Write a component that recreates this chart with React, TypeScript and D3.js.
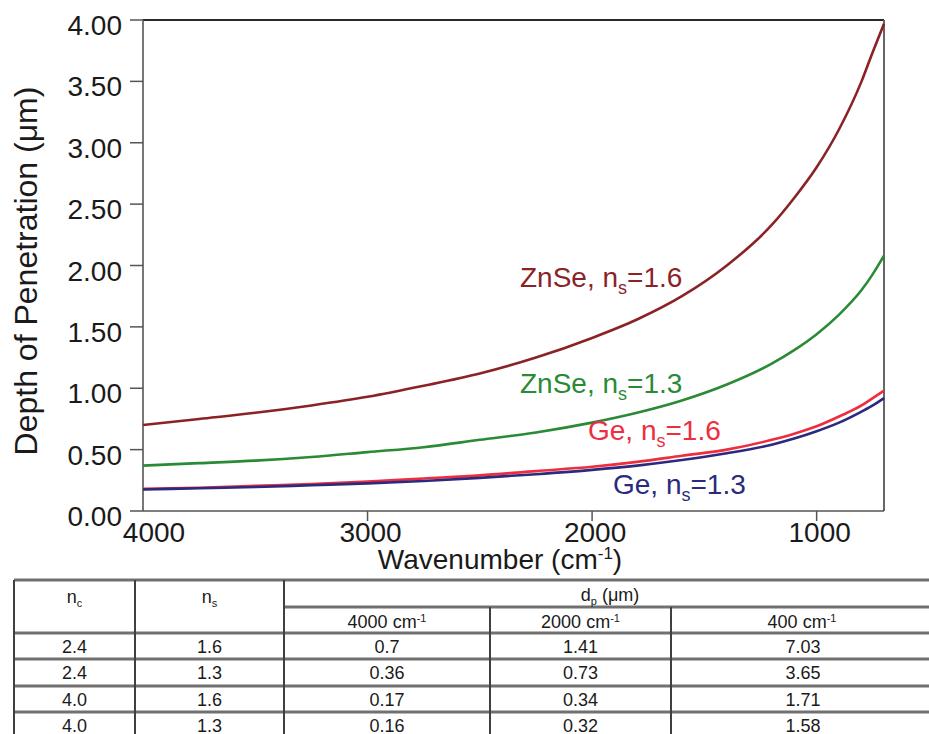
import React from 'react';
import * as d3 from 'd3';

// ---- data ----
const wavenumbers = [4000, 3750, 3500, 3250, 3000, 2750, 2500, 2250, 2000, 1800, 1600, 1400, 1200, 1100, 1000, 900, 800, 750, 700];
const znse16 = [0.70, 0.75, 0.80, 0.86, 0.93, 1.02, 1.12, 1.25, 1.41, 1.56, 1.75, 2.00, 2.33, 2.55, 2.80, 3.11, 3.50, 3.74, 3.97];
const znse13 = [0.37, 0.39, 0.41, 0.44, 0.48, 0.52, 0.58, 0.64, 0.72, 0.80, 0.90, 1.03, 1.20, 1.31, 1.44, 1.60, 1.80, 1.93, 2.08];
const ge16 = [0.18, 0.19, 0.205, 0.22, 0.24, 0.265, 0.29, 0.325, 0.36, 0.40, 0.45, 0.50, 0.58, 0.63, 0.69, 0.77, 0.86, 0.92, 0.98];
const ge13 = [0.175, 0.185, 0.195, 0.21, 0.225, 0.245, 0.27, 0.30, 0.335, 0.37, 0.415, 0.47, 0.54, 0.59, 0.65, 0.72, 0.81, 0.86, 0.92];

const seriesCrystal = ['ZnSe', 'ZnSe', 'Ge', 'Ge'];
const seriesNs = ['1.6', '1.3', '1.6', '1.3'];
const seriesColors = ['#8b2326', '#2a8a35', '#ee2d3f', '#2b2a7e'];
const seriesValues = [znse16, znse13, ge16, ge13];

const yTicks = [0, 0.5, 1, 1.5, 2, 2.5, 3, 3.5, 4];
const xTicks = [4000, 3000, 2000, 1000];

// table
const tableNc = ['2.4', '2.4', '4.0', '4.0'];
const tableNs = ['1.6', '1.3', '1.6', '1.3'];
const tableDp4000 = ['0.7', '0.36', '0.17', '0.16'];
const tableDp2000 = ['1.41', '0.73', '0.34', '0.32'];
const tableDp400 = ['7.03', '3.65', '1.71', '1.58'];
const tableWaves = ['4000', '2000', '400'];

const FONT = "'Liberation Sans', Arial, sans-serif";

export default function App() {
  const left = 143, right = 884, top = 20, bottom = 511;
  const x = d3.scaleLinear().domain([4000, 700]).range([left, right]);
  const y = d3.scaleLinear().domain([0, 4]).range([bottom, top]);
  const line = d3
    .line<number>()
    .x((_, i) => x(wavenumbers[i]))
    .y((d) => y(d))
    .curve(d3.curveMonotoneX);

  const labelPos = [
    { x: 520, y: 287 },
    { x: 520, y: 393 },
    { x: 588, y: 440 },
    { x: 613, y: 494 },
  ];

  // table geometry
  const colX = [14, 135, 284, 490, 671, 935];
  const rowY = [580, 607, 633, 659, 686, 712, 739];
  const hLine = '#707070';
  const vLine = '#404040';
  const rowsData = tableNc.map((nc, i) => [nc, tableNs[i], tableDp4000[i], tableDp2000[i], tableDp400[i]]);

  return (
    <svg width={929} height={734} style={{ position: 'absolute', left: 0, top: 0, background: '#fff' }} fontFamily={FONT}>
      <rect x={0} y={0} width={929} height={734} fill="#fff" />
      {/* frame */}
      <line x1={left} y1={top} x2={right} y2={top} stroke="#2a2a2a" strokeWidth={2.2} />
      <line x1={right} y1={top} x2={right} y2={bottom} stroke="#555" strokeWidth={1.8} />
      <line x1={left} y1={bottom} x2={right} y2={bottom} stroke="#555" strokeWidth={1.6} />
      <line x1={left} y1={top} x2={left} y2={bottom} stroke="#555" strokeWidth={1.6} />

      {/* y ticks */}
      {yTicks.map((t) => (
        <g key={'y' + t}>
          <line x1={left - 13} x2={left} y1={y(t)} y2={y(t)} stroke="#555" strokeWidth={1.5} />
          <text x={122} y={y(t) + 15} textAnchor="end" fontSize={28} fill="#1a1a1a">
            {t.toFixed(2)}
          </text>
        </g>
      ))}
      {/* x ticks */}
      {xTicks.map((t) => (
        <g key={'x' + t}>
          {t !== 4000 && <line x1={x(t)} x2={x(t)} y1={bottom} y2={bottom + 10} stroke="#555" strokeWidth={1.5} />}
          <text x={x(t) + (t === 4000 ? 11 : 3)} y={542} textAnchor="middle" fontSize={28} fill="#1a1a1a">
            {t}
          </text>
        </g>
      ))}

      {/* axis titles */}
      <text x={500} y={569} textAnchor="middle" fontSize={28} fill="#1a1a1a">
        Wavenumber (cm<tspan dy={-10} fontSize={17}>-1</tspan>
        <tspan dy={10}>)</tspan>
      </text>
      <text transform={`translate(37,271) rotate(-90)`} textAnchor="middle" fontSize={32} fill="#1a1a1a">
        Depth of Penetration (μm)
      </text>

      {/* curves */}
      {seriesValues.map((vals, i) => (
        <path key={'s' + i} d={line(vals) || ''} fill="none" stroke={seriesColors[i]} strokeWidth={2.6} strokeLinejoin="round" />
      ))}

      {/* curve labels */}
      {seriesValues.map((_, i) => (
        <text key={'l' + i} x={labelPos[i].x} y={labelPos[i].y} fontSize={28} fill={seriesColors[i]}>
          {seriesCrystal[i]}, n<tspan dy={7} fontSize={18}>s</tspan>
          <tspan dy={-7}>={seriesNs[i]}</tspan>
        </text>
      ))}

      {/* table */}
      <g>
        {/* horizontal lines */}
        <line x1={colX[0]} x2={colX[5]} y1={rowY[0]} y2={rowY[0]} stroke={hLine} strokeWidth={3} />
        <line x1={colX[2]} x2={colX[5]} y1={rowY[1]} y2={rowY[1]} stroke={hLine} strokeWidth={3} />
        {rowY.slice(2, 6).map((ry) => (
          <line key={'h' + ry} x1={colX[0]} x2={colX[5]} y1={ry} y2={ry} stroke={hLine} strokeWidth={3} />
        ))}
        {/* vertical lines */}
        {colX.slice(0, 3).map((cx) => (
          <line key={'v' + cx} x1={cx} x2={cx} y1={rowY[0]} y2={734} stroke={vLine} strokeWidth={2} />
        ))}
        {colX.slice(3, 5).map((cx) => (
          <line key={'v' + cx} x1={cx} x2={cx} y1={rowY[1]} y2={734} stroke={vLine} strokeWidth={2} />
        ))}
        {/* headers */}
        <text x={(colX[0] + colX[1]) / 2} y={603} textAnchor="middle" fontSize={18} fill="#1a1a1a">
          n<tspan dy={4} fontSize={11}>c</tspan>
        </text>
        <text x={(colX[1] + colX[2]) / 2} y={603} textAnchor="middle" fontSize={18} fill="#1a1a1a">
          n<tspan dy={4} fontSize={11}>s</tspan>
        </text>
        <text x={610} y={601} textAnchor="middle" fontSize={18} fill="#1a1a1a">
          d<tspan dy={4} fontSize={11}>p</tspan>
          <tspan dy={-4}> (μm)</tspan>
        </text>
        {tableWaves.map((w, i) => (
          <text key={'w' + w} x={(colX[2 + i] + colX[3 + i]) / 2 + (i === 2 ? -1 : 0)} y={628} textAnchor="middle" fontSize={18} fill="#1a1a1a">
            {w} cm<tspan dy={-6} fontSize={11}>-1</tspan>
          </text>
        ))}
        {rowsData.map((row, r) =>
          row.map((cell, c) => (
            <text
              key={'c' + r + '-' + c}
              x={(colX[c] + colX[c + 1]) / 2}
              y={rowY[r + 2] + 20}
              textAnchor="middle"
              fontSize={18}
              fill="#1a1a1a"
            >
              {cell}
            </text>
          ))
        )}
      </g>
    </svg>
  );
}
